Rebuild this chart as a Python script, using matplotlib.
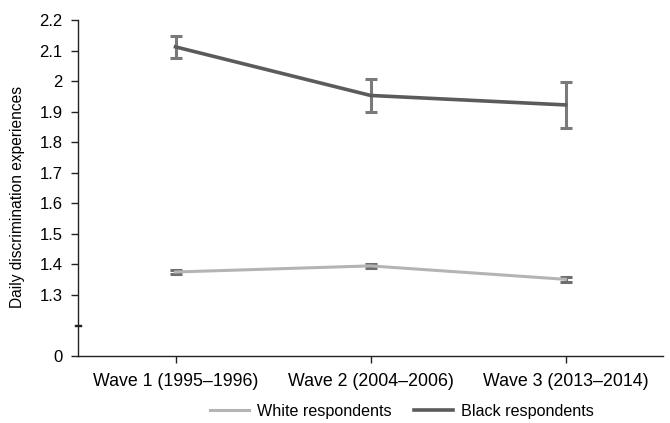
import matplotlib
matplotlib.use("Agg")
import matplotlib.pyplot as plt
from matplotlib.transforms import blended_transform_factory
from matplotlib.lines import Line2D
import numpy as np

plt.rcParams['font.family'] = ['Liberation Sans', 'DejaVu Sans']

categories = ["Wave 1 (1995\u20131996)", "Wave 2 (2004\u20132006)", "Wave 3 (2013\u20132014)"]
white_vals = [1.375, 1.395, 1.351]
white_err = [0.007, 0.007, 0.008]
black_vals = [2.112, 1.953, 1.922]
black_err = [0.036, 0.055, 0.074]

ytick_vals = [1.3, 1.4, 1.5, 1.6, 1.7, 1.8, 1.9, 2.0, 2.1, 2.2]
ytick_labels = ["1.3", "1.4", "1.5", "1.6", "1.7", "1.8", "1.9", "2", "2.1", "2.2"]
zero_pos = 1.1      # where the "0" of the broken axis sits
break_pos = 1.2

fig = plt.figure(figsize=(6.7, 4.23), dpi=100)
ax = fig.add_axes([78/670, (423-356)/423, (663-78)/670, (356-20)/423])

x = np.arange(len(categories))
ax.errorbar(x, white_vals, yerr=white_err, color='#b4b4b4', lw=2.2,
            ecolor='#6f6f6f', elinewidth=2.2, capsize=4, capthick=2.2,
            label='White respondents', zorder=3)
ax.errorbar(x, black_vals, yerr=black_err, color='#5b5b5b', lw=2.6,
            ecolor='#7a7a7a', elinewidth=2.2, capsize=4, capthick=2.2,
            label='Black respondents', zorder=3)

ax.set_xlim(-0.5, 2.5)
ax.set_ylim(zero_pos, 2.2)
ax.set_xticks(x)
ax.set_xticklabels(categories, fontsize=12.8)
ax.set_yticks([zero_pos] + ytick_vals)
ax.set_yticklabels(["0"] + ytick_labels, fontsize=12)
ax.tick_params(axis='both', direction='out', length=5, width=1, color='#222222')
ax.tick_params(axis='x', pad=7)
ax.tick_params(axis='y', pad=6)
for s in ['top', 'right']:
    ax.spines[s].set_visible(False)
for s in ['left', 'bottom']:
    ax.spines[s].set_color('#222222')
    ax.spines[s].set_linewidth(1)

ax.set_ylabel("Daily discrimination experiences", fontsize=11.2)
ax.yaxis.set_label_coords(-53/585, 0.473)

# axis break marks
tr = blended_transform_factory(ax.transAxes, ax.transData)
for dy in (-0.003, 0.003):
    ax.plot([-0.005, 0.005], [break_pos + dy]*2, color='#222222', lw=1,
            transform=tr, clip_on=False)

labels = ['White respondents', 'Black respondents']
h = [Line2D([], [], color='#b4b4b4', lw=2.2), Line2D([], [], color='#5b5b5b', lw=2.6)]
fig.legend(h, labels, loc='center', bbox_to_anchor=(402/670, 1 - 411/423),
           ncol=2, frameon=False, fontsize=11.6, handlelength=2.4,
           columnspacing=1.4, handletextpad=0.5)

fig.savefig("out.png", dpi=100)
